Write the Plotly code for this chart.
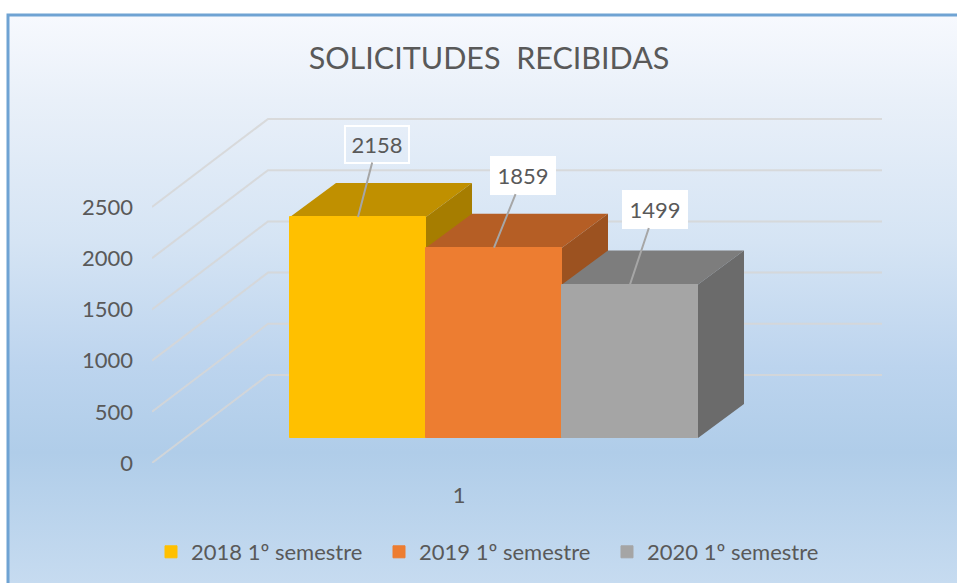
import plotly.graph_objects as go

# ---- data ----
series_names = ["2018 1º semestre", "2019 1º semestre", "2020 1º semestre"]
series_values = [2158, 1859, 1499]
y_ticks = [0, 500, 1000, 1500, 2000, 2500]
category_label = ["1"]

front_colors = ["#FFC000", "#ED7D31", "#A5A5A5"]
top_colors = ["#C09000", "#B55E25", "#7D7D7D"]
side_colors = ["#A67D00", "#9C5220", "#6B6B6B"]
gradient_stops = [[0, "#F7F9FE"], [0.15, "#E9F0F9"], [0.40, "#D5E4F4"], [0.62, "#BCD4EE"],
                  [0.77, "#B0CDE9"], [1, "#C6DBF0"]]

W, H = 957, 583
PLOT_L, PLOT_R, PLOT_T, PLOT_B = 152, 882, 100, 463
PX_PER_VALUE = 0.1024
PX_PER_BAR = 136
BAR0_CENTER = 358

x_lo = (PLOT_L - BAR0_CENTER) / PX_PER_BAR
x_hi = (PLOT_R - BAR0_CENTER) / PX_PER_BAR
y_hi = (PLOT_B - PLOT_T) / PX_PER_VALUE

floor_dx = 116 / PX_PER_BAR
floor_dy = 88 / PX_PER_VALUE
bar_base = 25 / PX_PER_VALUE
bar_dx = 46 / PX_PER_BAR
bar_dy = 34 / PX_PER_VALUE

fig = go.Figure()

# background gradient on a full-page subplot
fig.add_trace(go.Scatter(
    x=[8 / W, 1, 1, 8 / W, 8 / W], y=[0, 0, 1 - 15 / H, 1 - 15 / H, 0],
    mode="none", fill="toself", hoverinfo="skip", showlegend=False,
    fillgradient=dict(type="vertical",
                      colorscale=[[1 - s, c] for s, c in reversed(gradient_stops)]),
    xaxis="x", yaxis="y"))

# back-wall gridlines
for t in y_ticks:
    fig.add_trace(go.Scatter(
        x=[x_lo, x_lo + floor_dx, x_hi], y=[t, t + floor_dy, t + floor_dy],
        mode="lines", line=dict(color="rgba(214,214,214,0.85)", width=2),
        hoverinfo="skip", showlegend=False, xaxis="x2", yaxis="y2"))

# depth faces of the bars, painted back to front
for i, v in enumerate(series_values):
    l, r, b, t = i - 0.5, i + 0.5, bar_base, bar_base + v
    fig.add_trace(go.Scatter(
        x=[l, r, r + bar_dx, l + bar_dx, l], y=[t, t, t + bar_dy, t + bar_dy, t],
        mode="lines", line=dict(width=0), fill="toself", fillcolor=top_colors[i],
        hoverinfo="skip", showlegend=False, xaxis="x2", yaxis="y2"))
    fig.add_trace(go.Scatter(
        x=[r, r + bar_dx, r + bar_dx, r, r], y=[b, b + bar_dy, t + bar_dy, t, b],
        mode="lines", line=dict(width=0), fill="toself", fillcolor=side_colors[i],
        hoverinfo="skip", showlegend=False, xaxis="x2", yaxis="y2"))

# front faces
for i, v in enumerate(series_values):
    fig.add_trace(go.Bar(
        x=[i], y=[v], base=[bar_base], width=[1], name=series_names[i],
        marker=dict(color=front_colors[i], line=dict(color=front_colors[i], width=1)),
        xaxis="x3", yaxis="y3"))

FONT = "Lato, 'Open Sans', sans-serif"
TXT = "#595959"

dom_x = [PLOT_L / W, PLOT_R / W]
dom_y = [(H - PLOT_B) / H, (H - PLOT_T) / H]
hidden = dict(visible=False, fixedrange=True)

label_offsets = [(19, -73), (29, -72), (25, -75)]
label_styles = [("rgba(0,0,0,0)", "white"), ("white", "white"), ("white", "white")]
annotations = []
for i, v in enumerate(series_values):
    annotations.append(dict(
        x=i, y=bar_base + v, xref="x3", yref="y3",
        text=str(v), showarrow=True, arrowhead=0, arrowwidth=2, arrowcolor="#A6A6A6",
        ax=label_offsets[i][0], ay=label_offsets[i][1], axref="pixel", ayref="pixel",
        bgcolor=label_styles[i][0], bordercolor=label_styles[i][1], borderwidth=2,
        width=60, height=33, standoff=0,
        font=dict(family=FONT, size=22, color=TXT)))

fig.update_layout(
    width=W, height=H, autosize=False,
    margin=dict(l=0, r=0, t=0, b=0, autoexpand=False),
    paper_bgcolor="white", plot_bgcolor="rgba(0,0,0,0)",
    barmode="overlay", bargap=0,
    title=dict(text="SOLICITUDES  RECIBIDAS", x=489 / W, xanchor="center",
               y=1 - 58 / H, yanchor="middle", font=dict(family=FONT, size=30.5, color=TXT)),
    xaxis=dict(domain=[0, 1], range=[0, 1], **hidden),
    yaxis=dict(domain=[0, 1], range=[0, 1], **hidden),
    xaxis2=dict(domain=dom_x, range=[x_lo, x_hi], anchor="y2", **hidden),
    yaxis2=dict(domain=dom_y, range=[0, y_hi], anchor="x2", **hidden),
    xaxis3=dict(domain=dom_x, range=[x_lo, x_hi], anchor="y3", fixedrange=True,
                tickmode="array", tickvals=[(459 - BAR0_CENTER) / PX_PER_BAR],
                ticktext=category_label, showgrid=False, zeroline=False, showline=False,
                ticks="", ticklabelstandoff=17, tickfont=dict(family=FONT, size=22, color=TXT)),
    yaxis3=dict(domain=dom_y, range=[0, y_hi], anchor="x3", fixedrange=True,
                tickmode="array", tickvals=y_ticks, showgrid=False, zeroline=False,
                showline=False, ticks="", ticklabelstandoff=18,
                tickfont=dict(family=FONT, size=22, color=TXT)),
    legend=dict(orientation="h", xref="container", yref="container",
                x=151 / W, xanchor="left", y=1 - 552 / H, yanchor="middle",
                entrywidth=183, entrywidthmode="pixels", itemsizing="trace",
                bgcolor="rgba(0,0,0,0)", font=dict(family=FONT, size=22, color=TXT)),
    shapes=[dict(type="rect", xref="paper", yref="paper", x0=8 / W, x1=1.02, y0=-0.02,
                 y1=1 - 15 / H, line=dict(color="#6FA3D3", width=3), fillcolor="rgba(0,0,0,0)")],
    annotations=annotations,
)

fig.write_html("out.html", config=dict(displayModeBar=False),
               post_script="document.body.style.margin='0';document.documentElement.style.overflow='hidden';")
